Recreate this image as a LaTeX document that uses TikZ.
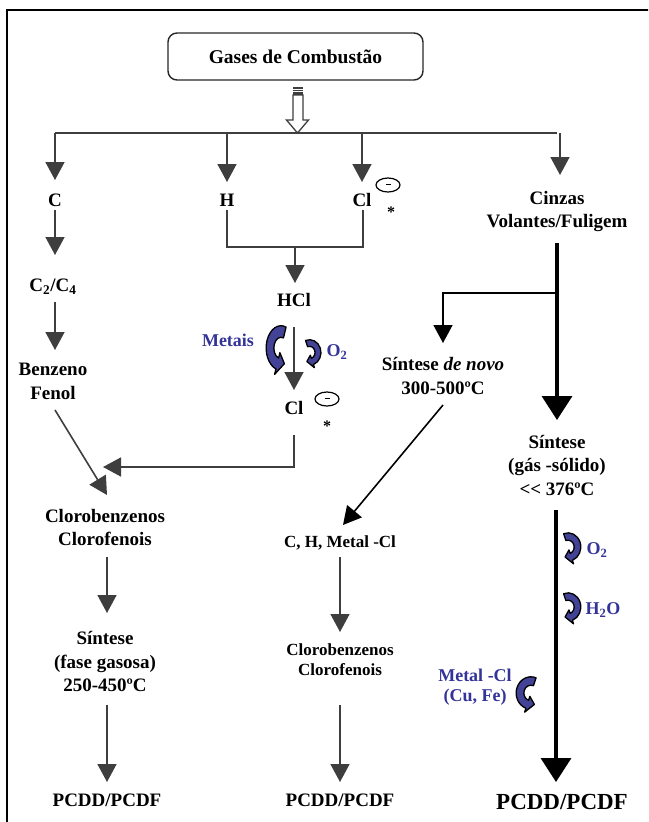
\documentclass[tikz,border=0pt]{standalone}
\usepackage{fontspec}
\setmainfont{Liberation Serif}
\usetikzlibrary{arrows.meta,calc,shapes.geometric}
\definecolor{arrowgray}{RGB}{62,62,62}
\definecolor{txtblue}{RGB}{51,51,153}
\definecolor{fillblue}{RGB}{66,66,150}

\newcommand\curlarrow[4]{%
\begin{scope}[shift={(#1,#2)},xscale=#3,yscale=-#4]
\filldraw[fill=fillblue,draw=black,line width=1.3pt,line join=round]
  (70:13.5) arc[start angle=70,end angle=250,radius=13.5]
  -- (250:17) -- (288:10) -- (250:3) -- (250:6.5)
  arc[start angle=250,end angle=70,radius=6.5] -- cycle;
\end{scope}}

\begin{document}
\begin{tikzpicture}[x=1pt,y=-1pt,
  lbl/.style={font=\fontsize{19}{23.5}\selectfont\bfseries,align=center,inner sep=0pt},
  mlbl/.style={font=\fontsize{17}{20}\selectfont\bfseries,align=center,inner sep=0pt},
  blbl/.style={font=\fontsize{18}{20}\selectfont\bfseries,text=txtblue,align=center,inner sep=0pt},
  gbox/.style={draw=black!85,line width=1.4pt,rounded corners=9pt,minimum width=255pt,minimum height=47pt,
     font=\fontsize{19.5}{22}\selectfont\bfseries,inner sep=0pt},
  minus/.style={draw=black,ellipse,line width=1.2pt,minimum width=24pt,minimum height=14pt,inner sep=0pt},
  plain/.style={draw=arrowgray,line width=1.6pt},
  arr/.style={draw=arrowgray,line width=1.6pt,-{Triangle[width=19pt,length=18pt]}},
  barr/.style={draw=black,line width=1.6pt,-{Triangle[width=19pt,length=18pt]}},
  tarr/.style={draw=black,line width=3.6pt,-{Triangle[width=30pt,length=24pt]}}]
\useasboundingbox (0,0) rectangle (648,822);
\clip (0,0) rectangle (648,822);
\draw[line width=1.5pt] (7,900) -- (7,10) -- (700,10);

% nodes
\node[gbox] (gases) at (295.5,56.5) {Gases de Combustão};
\node[lbl] (C) at (55,200) {C};
\node[lbl] (H) at (227,200) {H};
\node[lbl] (Cla) at (362,200) {Cl};
\node[minus] (m1) at (388,185) {};
\draw[line width=1.4pt] ($(m1)+(-2.5,-0.5)$) -- ($(m1)+(2.5,-0.5)$);
\node[lbl,font=\fontsize{16}{16}\selectfont\bfseries] (s1) at (391,212) {*};
\node[lbl] (cinzas) at (557,211.5) {Cinzas\\Volantes/Fuligem};
\node[lbl] (C24) at (53,287) {C\textsubscript{2}/C\textsubscript{4}};
\node[lbl] (benz) at (53,381.5) {Benzeno\\Fenol};
\node[lbl] (HCl) at (294,300) {HCl};
\node[lbl] (Clb) at (294,408) {Cl};
\node[minus] (m2) at (327,399) {};
\draw[line width=1.4pt] ($(m2)+(-2.5,-0.5)$) -- ($(m2)+(2.5,-0.5)$);
\node[lbl,font=\fontsize{16}{16}\selectfont\bfseries] (s2) at (327,426) {*};
\node[blbl] (metais) at (228,340) {Metais};
\node[blbl] (o2a) at (337,352) {O\textsubscript{2}};
\node[lbl] (cloro1) at (105,527.5) {Clorobenzenos\\Clorofenois};
\node[lbl] (sint1) at (105,661.5) {Síntese\\(fase gasosa)\\250-450ºC};
\node[lbl] (p1) at (107,800) {PCDD/PCDF};
\node[lbl] (novo) at (443,376) {Síntese \textit{de novo}\\300-500ºC};
\node[lbl] (sint2) at (557,465) {Síntese\\(gás -sólido)\\{<}{<} 376ºC};
\node[mlbl] (chm) at (340,543) {C, H, Metal -Cl};
\node[mlbl] (cloro2) at (340,660) {Clorobenzenos\\Clorofenois};
\node[lbl] (p2) at (340,800) {PCDD/PCDF};
\node[lbl,font=\fontsize{23}{26}\selectfont\bfseries] (p3) at (562,802) {PCDD/PCDF};
\node[blbl] (o2b) at (597,550) {O\textsubscript{2}};
\node[blbl] (h2o) at (603,610) {H\textsubscript{2}O};
\node[blbl] (mcl) at (475,687) {Metal -Cl\\(Cu, Fe)};

% hollow arrow from the box
\coordinate (bus) at (297.5,133);
\fill[arrowgray] (293,87) rectangle (303,95);
\foreach \yy in {89.3,91.8}
  \draw[white,line width=0.7pt] (293,\yy) -- (303,\yy);
\filldraw[fill=white,draw=arrowgray,line width=1.3pt,line join=miter]
  (293,95) -- (303,95) -- (303,120) -- (308.5,120) -- (bus) -- (286.5,120) -- (293,120) -- cycle;

% distribution bus
\draw[plain] (C|-bus) -- (cinzas|-bus);
\draw[arr] (C|-bus) -- ($(C)+(0,-20)$);
\draw[arr] (H|-bus) -- ($(H)+(0,-18)$);
\draw[arr] (Cla|-bus) -- ($(Cla)+(0,-18)$);
\draw[arr] ($(cinzas|-bus)+(3,0)$) -- ($(cinzas)+(3,-36.5)$);

% left column
\draw[arr] ($(C)+(0,10)$) -- ($(C24)+(2,-32)$);
\draw[arr] ($(C24)+(2,15)$) -- ($(benz)+(2,-31.5)$);
\draw[arr] ($(benz)+(2,28.5)$) -- ($(cloro1)+(2,-32.5)$);
\draw[arr] ($(cloro1)+(2,29.5)$) -- ($(sint1)+(2,-48.5)$);
\draw[arr] ($(sint1)+(2,43.5)$) -- ($(p1)+(0,-18)$);

% H / Cl -> HCl -> Cl
\coordinate (join) at (295,247);
\draw[plain] ($(H)+(0,10)$) |- (join) -| ($(Cla)+(1,10)$);
\draw[arr] (join) -- ($(HCl)+(1,-17)$);
\draw[arr] ($(HCl)+(0,27)$) -- ($(Clb)+(0,-18)$);
\coordinate (clturn) at (294,467);
\draw[arr] ($(Clb)+(0,27)$) -- (clturn) -- ($(cloro1)+(-2,-60.5)$);

% right column
\draw[tarr] ($(cinzas)+(0,31.5)$) -- ($(sint2)+(0,-45)$);
\coordinate (branch) at (557,293);
\draw[barr] (branch) -| ($(novo)+(0,-33)$);
\draw[barr] ($(novo)+(0,29)$) -- ($(chm)+(3,-18)$);
\draw[tarr] ($(sint2)+(-1,45)$) -- ($(p3)+(-6,-20)$);

% middle column
\draw[arr] ($(chm)+(0,14)$) -- ($(cloro2)+(0,-28)$);
\draw[arr] ($(cloro2)+(0,45)$) -- ($(p2)+(0,-18)$);

% curved reaction arrows
\curlarrow{281}{348}{1.1}{1.65}
\curlarrow{309.5}{352.5}{-0.85}{0.95}
\curlarrow{568}{547}{-0.95}{1.05}
\curlarrow{568}{607}{-0.95}{1.05}
\curlarrow{531}{693}{1.1}{1.2}
\end{tikzpicture}
\end{document}
